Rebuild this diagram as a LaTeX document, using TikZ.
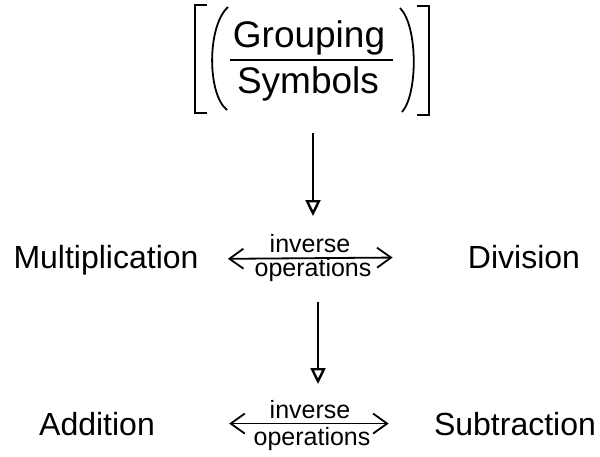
\documentclass[tikz,border=0pt]{standalone}
\usepackage{fontspec}
\setmainfont{Liberation Sans}
\usetikzlibrary{arrows.meta}

\begin{document}
\begin{tikzpicture}[x=0.5pt, y=-0.5pt,
    word/.style={inner sep=0pt, font=\fontsize{16}{19}\selectfont},
    small/.style={inner sep=0pt, font=\fontsize{12.5}{15}\selectfont},
    big/.style={inner sep=0pt, font=\fontsize{18.5}{22}\selectfont},
    inv/.style={line width=0.9pt, {Straight Barb[length=7pt,width=10pt]}-{Straight Barb[length=7pt,width=10pt]}},
    down/.style={line width=1.2pt, -{Triangle[open,length=8pt,width=7.5pt]}},
    delim/.style={line width=0.9pt}]
      \useasboundingbox (0,0) rectangle (600,456);

      % grouping symbols
      \node[big, anchor=base] (grp) at (309,47) {Grouping};
      \node[big, anchor=base] (sym) at (308,93) {Symbols};
      \draw[delim] (230,60) -- (393,60);
      \draw[delim] (228,7) .. controls (207,26) and (207,94) .. (227,110);
      \draw[delim] (400,8) .. controls (418,26) and (418,94) .. (402,112);
      \draw[delim] (207,5) -- (195,5) -- (195,113) -- (207,113);
      \draw[delim] (417,6) -- (429,6) -- (429,115) -- (417,115);

      % rows
      \node[word, anchor=base] (mul) at (106,268) {Multiplication};
      \node[word, anchor=base] (div) at (524,268) {Division};
      \node[small, anchor=base] (inv1) at (310,252) {inverse};
      \node[small, anchor=base] (ops1) at (313,276) {operations};

      \node[word, anchor=base] (add) at (97,435) {Addition};
      \node[word, anchor=base] (sub) at (515,435) {Subtraction};
      \node[small, anchor=base] (inv2) at (310,418) {inverse};
      \node[small, anchor=base] (ops2) at (312,445) {operations};

      \draw[inv, shorten <=14.5pt, shorten >=37.5pt] (mul) -- (div);
      \draw[inv, shorten <=37pt, shorten >=22.5pt] (add) -- (sub);

      % down arrows
      \coordinate (top1) at (313,133); \coordinate (bot1) at (313,216);
      \coordinate (top2) at (318,302); \coordinate (bot2) at (318,384);
      \draw[down] (top1) -- (bot1);
      \draw[down] (top2) -- (bot2);
\end{tikzpicture}
\end{document}
